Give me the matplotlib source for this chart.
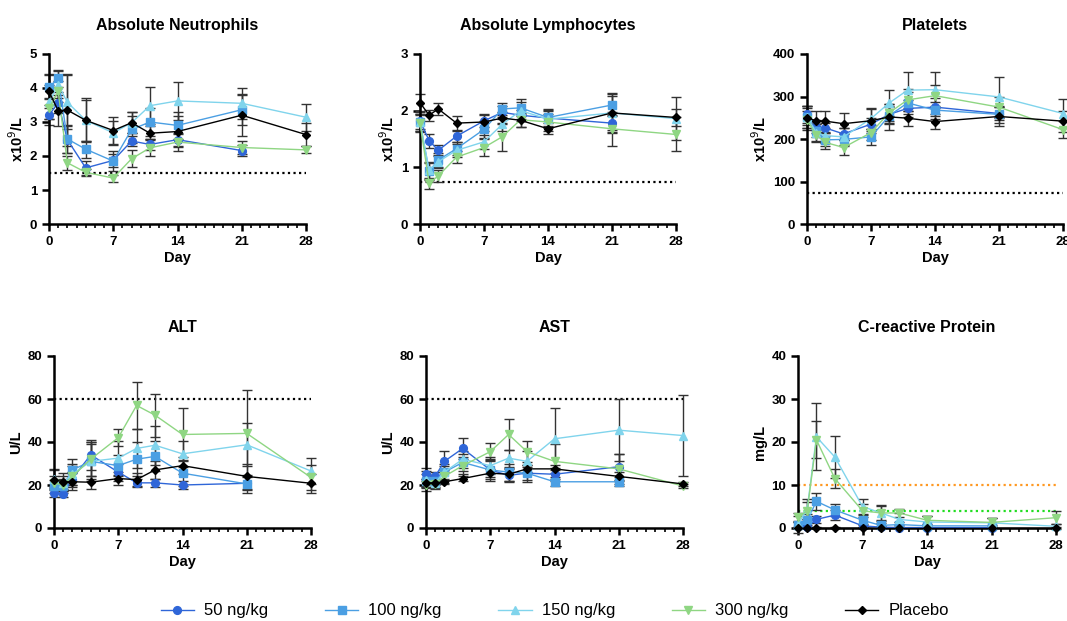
import numpy as np
import matplotlib
matplotlib.use("Agg")
import matplotlib.pyplot as plt
from matplotlib.ticker import MultipleLocator

plt.rcParams['font.family'] = ['Liberation Sans', 'DejaVu Sans']

nan = np.nan
days = [0, 1, 2, 4, 7, 9, 11, 14, 21, 28]
groups = ["50 ng/kg", "100 ng/kg", "150 ng/kg", "300 ng/kg", "Placebo"]
colors = ["#2f66d8", "#4b9fe3", "#80d4ec", "#8fd683", "#000000"]
markers = ["o", "s", "^", "v", "D"]
msizes = [5.6, 5.2, 5.6, 5.6, 3.6]

titles = ["Absolute Neutrophils", "Absolute Lymphocytes", "Platelets",
          "ALT", "AST", "C-reactive Protein"]
ylabels = ["x10$^{9}$/L", "x10$^{9}$/L", "x10$^{9}$/L", "U/L", "U/L", "mg/L"]
ylims = [(0, 5), (0, 3), (0, 400), (0, 80), (0, 80), (0, 40)]
ysteps = [1, 1, 100, 20, 20, 10]

# means per panel per group
neut_mean = [
    [3.2, 3.57, 2.48, 1.65, 1.87, 2.44, 2.34, 2.48, 2.16, nan],
    [4.02, 4.28, 2.5, 2.2, 1.85, 2.78, 3.0, 2.9, 3.36, nan],
    [3.58, 4.1, 3.58, 3.05, 2.68, 2.98, 3.48, 3.62, 3.55, 3.14],
    [3.4, 3.9, 1.8, 1.52, 1.35, 1.92, 2.24, 2.41, 2.25, 2.18],
    [3.9, 3.33, 3.35, 3.05, 2.75, 2.98, 2.67, 2.72, 3.2, 2.63],
]
neut_err = [
    [0.3, 0.3, 0.4, 0.2, 0.2, 0.15, 0.15, 0.2, 0.15, nan],
    [0.35, 0.25, 0.4, 0.25, 0.3, 0.4, 0.4, 0.4, 0.45, nan],
    [0.5, 0.4, 0.8, 0.6, 0.35, 0.3, 0.55, 0.55, 0.45, 0.4],
    [0.3, 0.3, 0.2, 0.1, 0.1, 0.25, 0.25, 0.25, 0.2, 0.1],
    [0.5, 0.45, 1.05, 0.65, 0.4, 0.3, 0.2, 0.45, 0.6, 0.35],
]
lymph_mean = [
    [1.82, 1.47, 1.3, 1.55, 1.82, 1.97, 1.92, 1.87, 1.78, nan],
    [1.8, 0.93, 1.13, 1.33, 1.67, 2.03, 2.05, 1.88, 2.1, nan],
    [1.8, 0.95, 1.1, 1.3, 1.45, 1.76, 2.0, 1.85, 1.96, 1.86],
    [1.78, 0.72, 0.85, 1.18, 1.35, 1.54, 1.84, 1.8, 1.68, 1.58],
    [2.14, 1.92, 2.03, 1.78, 1.8, 1.87, 1.83, 1.68, 1.96, 1.88],
]
lymph_err = [
    [0.15, 0.12, 0.1, 0.1, 0.1, 0.12, 0.1, 0.15, 0.15, nan],
    [0.15, 0.15, 0.12, 0.12, 0.15, 0.1, 0.15, 0.15, 0.2, nan],
    [0.15, 0.15, 0.12, 0.12, 0.12, 0.12, 0.15, 0.15, 0.3, 0.38],
    [0.15, 0.1, 0.1, 0.1, 0.15, 0.25, 0.12, 0.15, 0.3, 0.3],
    [0.15, 0.1, 0.1, 0.12, 0.15, 0.1, 0.12, 0.1, 0.35, 0.15],
]
plt_mean = [
    [258, 229, 226, 212, 235, 258, 272, 275, 260, nan],
    [252, 220, 198, 199, 205, 255, 285, 268, 258, nan],
    [252, 215, 208, 205, 248, 285, 315, 316, 299, 260],
    [245, 210, 192, 180, 215, 262, 292, 302, 275, 222],
    [250, 243, 242, 236, 243, 252, 249, 241, 253, 242],
]
plt_err = [
    [20, 15, 12, 15, 15, 20, 20, 22, 15, nan],
    [20, 15, 15, 15, 18, 20, 25, 20, 20, nan],
    [25, 20, 18, 20, 25, 30, 42, 42, 48, 35],
    [20, 18, 15, 18, 18, 20, 25, 25, 25, 20],
    [28, 22, 25, 25, 28, 30, 18, 18, 22, 25],
]
alt_mean = [
    [16.5, 15.8, 23, 34, 26, 21, 21, 20, 20.8, nan],
    [19.5, 19.5, 27, 31, 29, 32, 33.3, 25.5, 20.5, nan],
    [23, 21, 25, 31, 32.5, 37, 38.5, 34.5, 38.7, 26.5],
    [21, 20, 24, 32, 42, 57, 52.5, 43.5, 44, 23.5],
    [22.5, 21.5, 21.5, 21.3, 23, 22.5, 27, 29, 24, 20.8],
]
alt_err = [
    [2, 1.5, 3, 7, 4, 2, 2, 2, 3, nan],
    [3, 3, 5, 8, 5, 8, 7, 6, 4, nan],
    [4, 3, 5, 9, 8, 9, 9, 6, 10, 6],
    [3, 3, 5, 8, 4, 11, 10, 12.5, 20, 6],
    [5, 4, 4, 3, 3, 3, 4, 4, 6, 4.5],
]
ast_mean = [
    [25, 24, 31, 37, 27, 24.5, 25.5, 25, 28.5, nan],
    [22, 22, 26, 30.5, 27, 26, 25.5, 21.5, 21.5, nan],
    [22.5, 21, 26, 32, 29, 32.5, 31, 41.5, 45.5, 43],
    [20, 20.5, 24, 29, 35.5, 43.5, 35.5, 31, 27.5, 19.5],
    [21, 21, 21.5, 23, 25.5, 25, 27.5, 27.5, 24, 20.5],
]
ast_err = [
    [3, 2, 5, 5, 4, 3, 3, 3, 6, nan],
    [3, 2, 3, 4, 5, 4, 4, 2, 2, nan],
    [4, 3, 4, 4, 4, 4, 5, 14.5, 14.5, 19],
    [3, 2, 3, 4, 4, 7, 5, 8, 7, 1],
    [2, 2, 1, 1, 2, 3, 2, 2, 2, 1],
]
crp_mean = [
    [0.8, 0.3, 2.0, 3.0, 0.5, 0.2, 0.1, 0.1, 0.1, nan],
    [0.8, 1.8, 6.2, 4.2, 1.8, 0.6, 0.8, 0.5, 0.5, nan],
    [0.8, 4.5, 21.2, 16.5, 5.0, 3.5, 2.0, 1.4, 1.2, 0.4],
    [2.5, 4.0, 20.5, 11.5, 4.0, 3.5, 3.5, 1.8, 1.3, 2.4],
    [0.1, 0.1, 0.1, 0.1, 0.1, 0.1, 0.1, 0.1, 0.1, 0.1],
]
crp_err = [
    [0.5, 0.3, 0.8, 1.2, 0.4, 0.2, 0.1, 0.1, 0.1, nan],
    [0.8, 1.5, 2.0, 1.3, 1.2, 0.5, 0.5, 0.4, 0.3, nan],
    [2.0, 2.3, 7.8, 4.9, 1.8, 1.9, 1.4, 1.5, 1.2, 0.6],
    [1.0, 2.0, 4.3, 2.2, 1.5, 1.6, 1.0, 1.1, 1.0, 1.5],
    [0.05, 0.05, 0.05, 0.05, 0.05, 0.05, 0.05, 0.05, 0.05, 0.05],
]
means = [neut_mean, lymph_mean, plt_mean, alt_mean, ast_mean, crp_mean]
errs = [neut_err, lymph_err, plt_err, alt_err, ast_err, crp_err]
thresholds = [[1.5], [0.75], [72], [60], [60], [10, 4]]
thr_colors = [["black"], ["black"], ["black"], ["black"], ["black"], ["#ff9922", "#22dd22"]]

W, H = 1067, 621
fig = plt.figure(figsize=(W / 100, H / 100), dpi=100)
# axes rectangles in pixels: left, top, right, bottom
rects = [(49, 54, 306, 224), (420, 54, 676, 224), (807, 54, 1063, 224),
         (54, 356, 311, 528), (426, 356, 683, 528), (798, 356, 1056, 528)]

handles = []
for p in range(6):
    l, t, r, b = rects[p]
    ax = fig.add_axes([l / W, 1 - b / H, (r - l) / W, (b - t) / H])
    for th, tc in zip(thresholds[p], thr_colors[p]):
        ax.axhline(th, color=tc, ls=(0, (1, 1.5)), lw=1.6, zorder=1)
    for g in range(5):
        m = np.array(means[p][g], dtype=float)
        e = np.array(errs[p][g], dtype=float)
        ok = ~np.isnan(m)
        x = np.array(days)[ok]
        ax.errorbar(x, m[ok], yerr=e[ok], fmt="none", ecolor="#333333",
                    elinewidth=1.0, capsize=3.5, capthick=1.0, zorder=2, clip_on=False)
        h, = ax.plot(x, m[ok], color=colors[g], marker=markers[g], ms=msizes[g],
                     lw=1.0, zorder=3 + g * 0.1, clip_on=False, label=groups[g])
        if p == 0:
            handles.append(h)
    ax.set_xlim(0, 28)
    ax.set_ylim(*ylims[p])
    ax.xaxis.set_major_locator(MultipleLocator(7))
    ax.xaxis.set_minor_locator(MultipleLocator(1))
    ax.yaxis.set_major_locator(MultipleLocator(ysteps[p]))
    for s in ["top", "right"]:
        ax.spines[s].set_visible(False)
    for s in ["left", "bottom"]:
        ax.spines[s].set_linewidth(1.8)
    ax.tick_params(which="major", length=5, width=1.8, labelsize=9.5)
    ax.tick_params(which="minor", length=3, width=1.2)
    for lab in ax.get_xticklabels() + ax.get_yticklabels():
        lab.set_fontweight("bold")
    ax.set_xlabel("Day", fontsize=10.5, fontweight="bold", labelpad=2)
    ax.set_ylabel(ylabels[p], fontsize=10.5, fontweight="bold", labelpad=3)
    ax.set_title(titles[p], fontsize=11.5, fontweight="bold", pad=17)

fig.legend(handles=handles, labels=groups, loc="lower center", ncol=5,
           bbox_to_anchor=(0.520, -0.02), frameon=False, fontsize=12,
           columnspacing=3.4, handlelength=2.0, handletextpad=0.6)

fig.savefig("out.png", dpi=100)
